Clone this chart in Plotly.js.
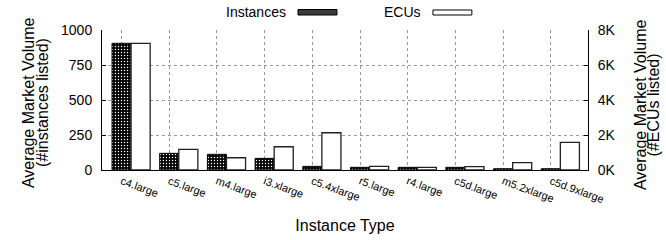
<!DOCTYPE html>
<html>
<head>
<meta charset="utf-8">
<script src="https://cdn.plot.ly/plotly-3.0.1.min.js"></script>
<style>html,body{margin:0;padding:0;background:#fff;}#chart{width:666px;height:240px;}</style>
</head>
<body>
<div id="chart"></div>
<script>
const categories = ["c4.large","c5.large","m4.large","i3.xlarge","c5.4xlarge","r5.large","r4.large","c5d.large","m5.2xlarge","c5d.9xlarge"];
const instances = [905, 119, 112, 83, 26, 19, 19, 19, 9, 9];
const ecus = [7240, 1180, 700, 1330, 2130, 210, 150, 190, 420, 1580];
const leftTickVals = [0, 250, 500, 750, 1000];
const rightTickVals = [0, 2000, 4000, 6000, 8000];
const rightTickText = ["0K", "2K", "4K", "6K", "8K"];
const seriesNames = ["Instances", "ECUs"];
const leftTitleLines = ["Average Market Volume", "(#instances listed)"];
const rightTitleLines = ["Average Market Volume", "(#ECUs listed)"];
const xTitle = "Instance Type";

const FONT = "'Liberation Sans', Arial, Helvetica, sans-serif";

const traces = [
  {
    type: "bar", name: seriesNames[0], x: categories, y: instances,
    xaxis: "x", yaxis: "y", offset: -0.2, width: 0.4,
    marker: {color: "#000", line: {color: "#000", width: 1},
      pattern: {shape: ".", bgcolor: "#000", fgcolor: "#fff", size: 3, solidity: 0.18, fillmode: "replace"}},
    showlegend: false, hoverinfo: "skip"
  },
  {
    type: "bar", name: seriesNames[1], x: categories, y: ecus,
    xaxis: "x", yaxis: "y2", offset: 0.2, width: 0.4,
    marker: {color: "#fff", line: {color: "#222", width: 1.3}},
    showlegend: false, hoverinfo: "skip"
  }
];

const titleFont = {size: 16, family: FONT, color: "#000"};

const layout = {
  width: 666, height: 240,
  margin: {l: 102, r: 78, t: 30, b: 70, pad: 0},
  paper_bgcolor: "#fff", plot_bgcolor: "#fff",
  font: {family: FONT, size: 14, color: "#000"},
  showlegend: false,
  xaxis: {
    type: "category", range: [-0.41, 9.78],
    showgrid: true, gridcolor: "#999", griddash: "dot", gridwidth: 1,
    showline: true, linecolor: "#000", linewidth: 1,
    ticks: "", tickangle: 20, tickfont: {size: 11, family: FONT},
    title: {text: xTitle, font: titleFont, standoff: 15},
    automargin: false, zeroline: false
  },
  yaxis: {
    range: [0, 1000], tickvals: leftTickVals,
    showgrid: true, gridcolor: "#999", griddash: "dot", gridwidth: 1,
    showline: true, linecolor: "#000", linewidth: 1,
    ticks: "inside", ticklen: 4, tickcolor: "#000",
    tickfont: {size: 14, family: FONT}, ticklabelstandoff: 6,
    automargin: false, zeroline: false
  },
  yaxis2: {
    overlaying: "y", side: "right", range: [0, 8000],
    tickvals: rightTickVals, ticktext: rightTickText,
    showgrid: false, showline: true, linecolor: "#000", linewidth: 1,
    ticks: "inside", ticklen: 4, tickcolor: "#000",
    tickfont: {size: 14, family: FONT}, ticklabelstandoff: 6,
    automargin: false, zeroline: false
  },
  annotations: [
    {xref: "paper", yref: "paper", x: 0.3827, y: 1.1286, xanchor: "right", yanchor: "middle",
     text: seriesNames[0], showarrow: false, font: {size: 14, family: FONT}},
    {xref: "paper", yref: "paper", x: 0.6605, y: 1.1286, xanchor: "right", yanchor: "middle",
     text: seriesNames[1], showarrow: false, font: {size: 14, family: FONT}},
    {xref: "paper", yref: "paper", x: -0.1512, y: 0.482, xanchor: "center", yanchor: "middle",
     textangle: -90, text: leftTitleLines[0], showarrow: false, font: titleFont},
    {xref: "paper", yref: "paper", x: -0.1224, y: 0.482, xanchor: "center", yanchor: "middle",
     textangle: -90, text: leftTitleLines[1], showarrow: false, font: titleFont},
    {xref: "paper", yref: "paper", x: 1.107, y: 0.464, xanchor: "center", yanchor: "middle",
     textangle: -90, text: rightTitleLines[0], showarrow: false, font: titleFont},
    {xref: "paper", yref: "paper", x: 1.1348, y: 0.464, xanchor: "center", yanchor: "middle",
     textangle: -90, text: rightTitleLines[1], showarrow: false, font: titleFont}
  ],
  shapes: [
    {type: "rect", xref: "paper", yref: "paper", x0: 0.4033, x1: 0.4835, y0: 1.1071, y1: 1.1464,
     fillcolor: "#3c3c3c", line: {color: "#000", width: 1}},
    {type: "rect", xref: "paper", yref: "paper", x0: 0.681, x1: 0.761, y0: 1.1071, y1: 1.1429,
     fillcolor: "#fff", line: {color: "#000", width: 1}}
  ],
  bargap: 0
};

Plotly.newPlot("chart", traces, layout, {staticPlot: true, displayModeBar: false});
</script>
</body>
</html>
